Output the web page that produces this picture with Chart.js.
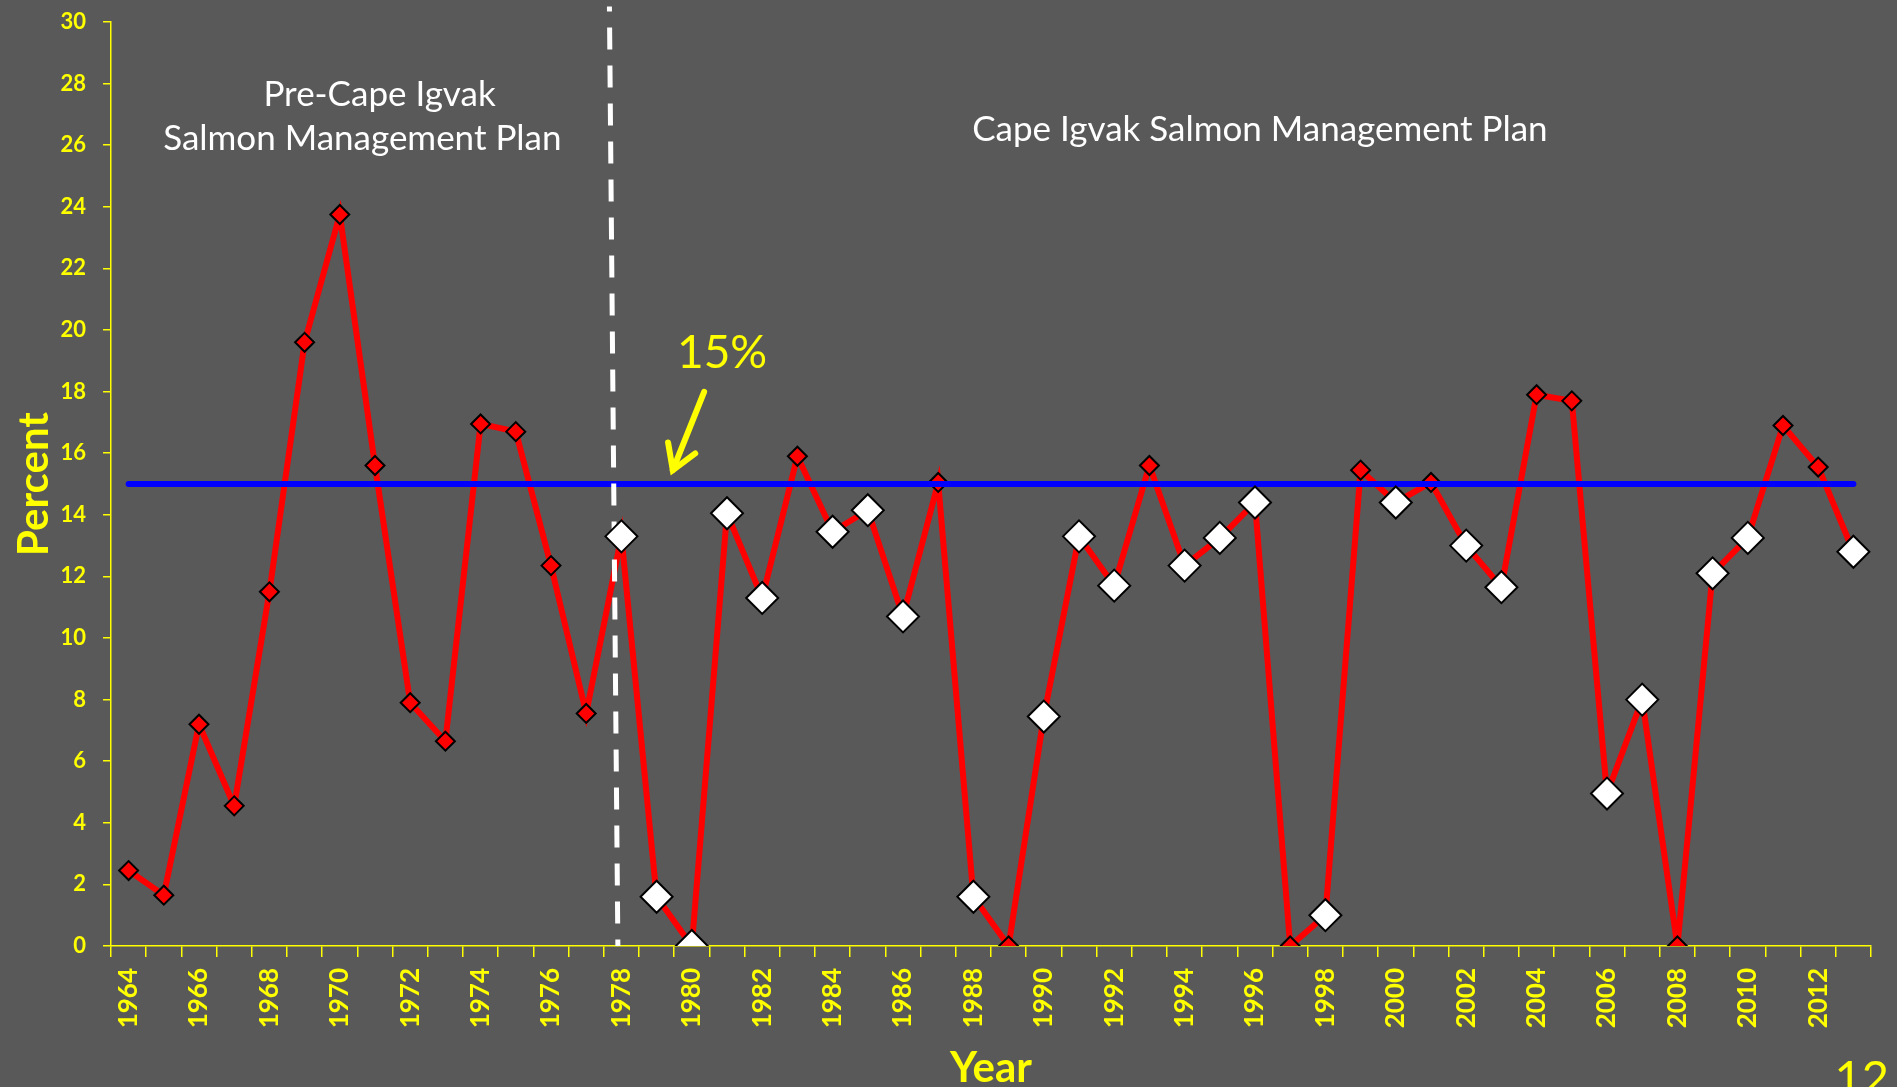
<!DOCTYPE html>
<html>
<head>
<meta charset="utf-8">
<script src="https://cdn.jsdelivr.net/npm/chart.js@4.4.0/dist/chart.umd.min.js"></script>
<style>
  html, body { margin: 0; padding: 0; background: #595959; }
  #caixa { width: 1897px; height: 1087px; }
</style>
</head>
<body>
<div id="caixa"><canvas id="grafico"></canvas></div>
<script>
// anos do eixo x
const anos = ['1964', '1965', '1966', '1967', '1968', '1969', '1970', '1971', '1972', '1973',
  '1974', '1975', '1976', '1977', '1978', '1979', '1980', '1981', '1982', '1983',
  '1984', '1985', '1986', '1987', '1988', '1989', '1990', '1991', '1992', '1993',
  '1994', '1995', '1996', '1997', '1998', '1999', '2000', '2001', '2002', '2003',
  '2004', '2005', '2006', '2007', '2008', '2009', '2010', '2011', '2012', '2013']

// percent per year
const percentual = [2.45, 1.65, 7.2, 4.55, 11.5, 19.6, 23.75, 15.6, 7.9, 6.65,
  16.95, 16.7, 12.35, 7.55, 13.3, 1.6, 0, 14.05, 11.3, 15.9,
  13.45, 14.15, 10.7, 15.05, 1.6, 0, 7.45, 13.3, 11.7, 15.6,
  12.35, 13.25, 14.4, 0, 1.0, 15.45, 14.4, 15.05, 13.0, 11.65,
  17.9, 17.7, 4.95, 8.0, 0, 12.1, 13.25, 16.9, 15.55, 12.8]

// years shown with the big white markers
const anosBrancos = [1978, 1979, 1980, 1981, 1982, 1984, 1985, 1986, 1988, 1990,
  1991, 1992, 1994, 1995, 1996, 1998, 2000, 2002, 2003, 2006, 2007, 2009, 2010, 2013]

// y axis
const yMin = 0
const yMax = 30
const yPasso = 2

// 15% line
const meta = 15

const amarelo = '#FFFF00'

var pontosBrancos = anos.map((a, i) => anosBrancos.includes(Number(a)) ? percentual[i] : null)

// desenha a linha azul, a linha tracejada e os textos
const extras = {
  id: 'extras',
  afterDatasetDraw(chart, args) {
    if (args.index !== 0) return
    const ctx = chart.ctx
    const x = chart.scales.x
    const y = chart.scales.y

    // linha dos 15%
    ctx.save()
    ctx.strokeStyle = '#0000FF'
    ctx.lineWidth = 6
    ctx.lineCap = 'round'
    ctx.beginPath()
    ctx.moveTo(x.getPixelForValue(0), y.getPixelForValue(meta))
    ctx.lineTo(x.getPixelForValue(anos.length - 1), y.getPixelForValue(meta))
    ctx.stroke()

    // start of the management plan (dashed)
    ctx.strokeStyle = '#FFFFFF'
    ctx.lineWidth = 5
    ctx.lineCap = 'butt'
    ctx.setLineDash([22, 16])
    ctx.lineDashOffset = 17
    ctx.beginPath()
    ctx.moveTo(x.getPixelForValue(13.66), y.getPixelForValue(30.5))
    ctx.lineTo(x.getPixelForValue(13.9), y.getPixelForValue(0))
    ctx.stroke()
    ctx.restore()
  },
  afterDraw(chart) {
    const ctx = chart.ctx
    const x = chart.scales.x
    const y = chart.scales.y
    ctx.save()
    ctx.textAlign = 'center'
    ctx.textBaseline = 'middle'
    ctx.fillStyle = '#FFFFFF'
    ctx.font = '35px Lato'
    ctx.fillText('Pre-Cape Igvak', x.getPixelForValue(7.13), y.getPixelForValue(27.65))
    ctx.fillText('Salmon Management Plan', x.getPixelForValue(6.64), y.getPixelForValue(26.2))
    ctx.fillText('Cape Igvak Salmon Management Plan', x.getPixelForValue(32.14), y.getPixelForValue(26.5))

    ctx.fillStyle = amarelo
    ctx.font = '46px Lato'
    ctx.fillText('15%', x.getPixelForValue(16.86), y.getPixelForValue(19.24))

    // seta
    const x1 = x.getPixelForValue(16.35), y1 = y.getPixelForValue(17.99)
    const x2 = x.getPixelForValue(15.46), y2 = y.getPixelForValue(15.45)
    const ang = Math.atan2(y2 - y1, x2 - x1)
    ctx.strokeStyle = amarelo
    ctx.lineWidth = 6
    ctx.lineCap = 'round'
    ctx.lineJoin = 'miter'
    ctx.beginPath()
    ctx.moveTo(x1, y1)
    ctx.lineTo(x2, y2)
    ctx.stroke()
    ctx.beginPath()
    ctx.moveTo(x2 - 28 * Math.cos(ang - 0.55), y2 - 28 * Math.sin(ang - 0.55))
    ctx.lineTo(x2, y2)
    ctx.lineTo(x2 - 28 * Math.cos(ang + 0.55), y2 - 28 * Math.sin(ang + 0.55))
    ctx.stroke()

    // slide number
    ctx.textAlign = 'right'
    ctx.textBaseline = 'alphabetic'
    ctx.font = '47px Lato'
    ctx.fillText('12', chart.width - 8, chart.height + 7)
    ctx.restore()
  }
}

Chart.defaults.font.family = 'Lato'

var ctx = document.getElementById('grafico').getContext('2d')
var grafico = new Chart(ctx, {
  type: 'line',
  data: {
    labels: anos,
    datasets: [{
      label: 'Percent',
      data: percentual,
      borderColor: '#FF0000',
      borderWidth: 6,
      tension: 0,
      pointStyle: 'rectRot',
      pointRadius: 9.5,
      pointBackgroundColor: '#FF0000',
      pointBorderColor: '#000000',
      pointBorderWidth: 2,
      order: 1
    }, {
      label: 'Plan years',
      data: pontosBrancos,
      showLine: false,
      pointStyle: 'rectRot',
      pointRadius: 16,
      pointBackgroundColor: '#FFFFFF',
      pointBorderColor: '#000000',
      pointBorderWidth: 2,
      order: 0
    }]
  },
  options: {
    responsive: true,
    maintainAspectRatio: false,
    animation: false,
    layout: { padding: { top: 22, right: 26, left: 0, bottom: 0 } },
    plugins: {
      legend: { display: false },
      tooltip: { enabled: false }
    },
    scales: {
      x: {
        offset: true,
        grid: { offset: true, drawOnChartArea: false, color: amarelo, lineWidth: 1.5, tickLength: 11 },
        border: { color: amarelo, width: 1.5 },
        ticks: {
          color: amarelo,
          font: { size: 26, weight: 'bold' },
          autoSkip: false,
          maxRotation: 90,
          minRotation: 90,
          padding: 11,
          callback: function (v, i) { return i % 2 === 0 ? this.getLabelForValue(v) : '' }
        },
        title: {
          display: true,
          text: 'Year',
          color: amarelo,
          font: { size: 42, weight: 'bold', lineHeight: 0.9 },
          padding: 0
        },
        afterFit: s => { s.height = 141 }
      },
      y: {
        min: yMin,
        max: yMax,
        grid: { drawOnChartArea: false, color: amarelo, lineWidth: 1.5, tickLength: 8 },
        border: { color: amarelo, width: 1.5 },
        ticks: {
          stepSize: yPasso,
          color: amarelo,
          font: { size: 22, weight: 'bold' },
          padding: 17
        },
        title: {
          display: true,
          text: 'Percent',
          color: amarelo,
          font: { size: 42, weight: 'bold' },
          padding: { top: 9, bottom: 0 }
        },
        afterFit: s => {
          s.width = 111
          // nao deixar o padding dos labels empurrar o topo
          s.paddingTop = 0
          s.paddingBottom = 0
        }
      }
    }
  },
  plugins: [extras]
})
</script>
</body>
</html>
